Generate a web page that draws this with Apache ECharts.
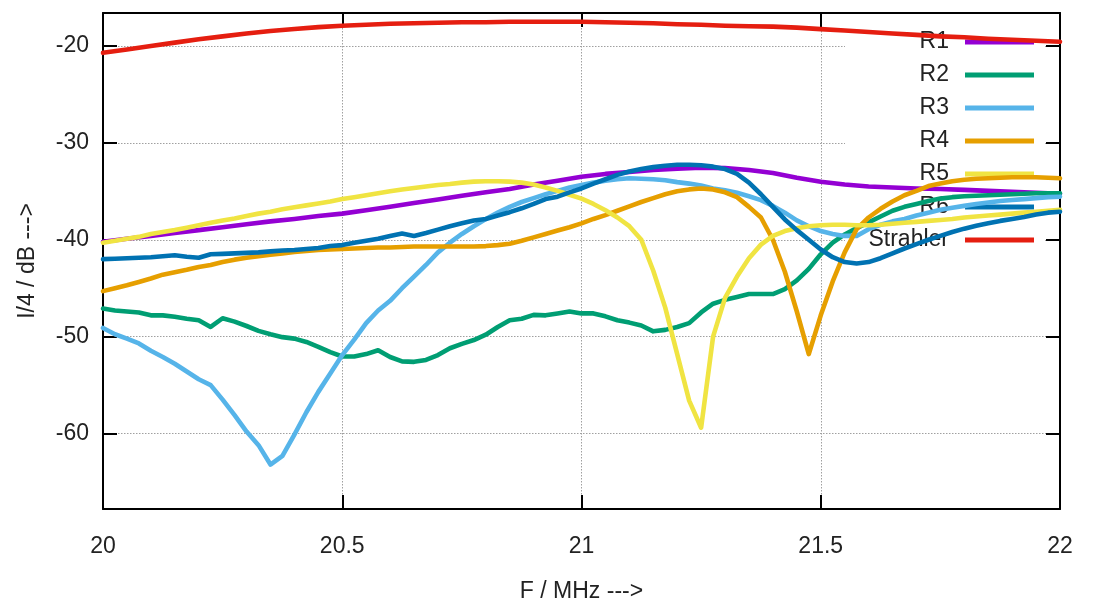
<!DOCTYPE html>
<html><head><meta charset="utf-8">
<script src="https://cdn.jsdelivr.net/npm/echarts@6/dist/echarts.min.js"></script>
<style>html,body{margin:0;padding:0;background:#fff}#c{width:1095px;height:603px}</style>
</head><body><div id="c"></div>
<script>
// Frequencies (MHz)
const freqFine = [20,20.025,20.05,20.075,20.1,20.125,20.15,20.175,20.2,20.225,20.25,20.275,20.3,20.325,20.35,20.375,20.4,20.425,20.45,20.475,20.5,20.525,20.55,20.575,20.6,20.625,20.65,20.675,20.7,20.725,20.75,20.775,20.8,20.825,20.85,20.875,20.9,20.925,20.95,20.975,21,21.025,21.05,21.075,21.1,21.125,21.15,21.175,21.2,21.225,21.25,21.275,21.3,21.325,21.35,21.375,21.4,21.425,21.45,21.475,21.5,21.525,21.55,21.575,21.6,21.625,21.65,21.675,21.7,21.725,21.75,21.775,21.8,21.825,21.85,21.875,21.9,21.925,21.95,21.975,22];
const freqCoarse = [20,20.05,20.1,20.15,20.2,20.25,20.3,20.35,20.4,20.45,20.5,20.55,20.6,20.65,20.7,20.75,20.8,20.85,20.9,20.95,21,21.05,21.1,21.15,21.2,21.25,21.3,21.35,21.4,21.45,21.5,21.55,21.6,21.65,21.7,21.75,21.8,21.85,21.9,21.95,22];

// Series values (dB)
const r1 = [-40.2,-39.9,-39.6,-39.3,-39.0,-38.7,-38.4,-38.1,-37.85,-37.55,-37.3,-36.95,-36.6,-36.2,-35.85,-35.45,-35.1,-34.75,-34.3,-33.9,-33.5,-33.2,-33.0,-32.8,-32.65,-32.55,-32.6,-32.8,-33.1,-33.6,-34.0,-34.3,-34.5,-34.6,-34.7,-34.75,-34.85,-34.95,-35.05,-35.15,-35.25];
const strahler = [-20.7,-20.35,-20.0,-19.65,-19.3,-19.0,-18.7,-18.45,-18.25,-18.05,-17.9,-17.8,-17.7,-17.65,-17.6,-17.55,-17.55,-17.5,-17.5,-17.5,-17.5,-17.55,-17.6,-17.65,-17.75,-17.8,-17.9,-17.95,-18.0,-18.1,-18.25,-18.4,-18.55,-18.7,-18.85,-19.0,-19.1,-19.25,-19.35,-19.45,-19.55];
const r2 = [-47.1,-47.3,-47.4,-47.5,-47.8,-47.8,-47.95,-48.15,-48.3,-49.0,
  -48.1,-48.45,-48.9,-49.4,-49.75,-50.05,-50.2,-50.55,-51.05,-51.6,
  -52.05,-52.05,-51.8,-51.4,-52.1,-52.55,-52.6,-52.4,-51.9,-51.2,
  -50.75,-50.35,-49.8,-49.0,-48.3,-48.15,-47.75,-47.8,-47.6,-47.4,
  -47.6,-47.6,-47.9,-48.3,-48.55,-48.85,-49.45,-49.3,-49.0,-48.6,
  -47.5,-46.6,-46.2,-45.9,-45.6,-45.6,-45.6,-45.1,-44.2,-43.0,
  -41.5,-40.3,-39.45,-38.8,-38.2,-37.6,-37.0,-36.6,-36.3,-36.0,
  -35.75,-35.6,-35.5,-35.45,-35.4,-35.35,-35.3,-35.25,-35.2,-35.2,-35.2];
const r3 = [-49.1,-49.75,-50.2,-50.7,-51.45,-52.1,-52.8,-53.6,-54.4,-55.0,
  -56.5,-58.1,-59.8,-61.2,-63.2,-62.3,-60.1,-57.8,-55.7,-53.8,
  -51.9,-50.3,-48.6,-47.3,-46.3,-45.0,-43.8,-42.6,-41.3,-40.3,
  -39.4,-38.6,-37.85,-37.2,-36.6,-36.1,-35.7,-35.3,-34.95,-34.6,
  -34.35,-34.1,-33.9,-33.75,-33.65,-33.7,-33.75,-33.85,-34.05,-34.2,
  -34.4,-34.7,-34.9,-35.15,-35.5,-35.9,-36.5,-37.2,-38.0,-38.6,
  -39.1,-39.4,-39.6,-39.6,-38.9,-38.45,-38.1,-37.85,-37.5,-37.2,
  -36.9,-36.7,-36.5,-36.3,-36.15,-36.0,-35.9,-35.8,-35.7,-35.6,-35.55];
const r4 = [-45.3,-45.0,-44.7,-44.35,-44.0,-43.6,-43.35,-43.1,-42.8,-42.6,
  -42.3,-42.05,-41.85,-41.7,-41.55,-41.4,-41.25,-41.15,-41.05,-41.0,
  -40.95,-40.9,-40.85,-40.8,-40.8,-40.75,-40.7,-40.7,-40.7,-40.7,
  -40.7,-40.7,-40.65,-40.55,-40.4,-40.1,-39.75,-39.4,-39.05,-38.7,
  -38.3,-37.85,-37.45,-37.0,-36.55,-36.1,-35.7,-35.3,-35.0,-34.8,
  -34.7,-34.8,-35.1,-35.6,-36.6,-37.7,-40.0,-43.3,-47.4,-51.8,
  -47.8,-44.3,-41.3,-38.9,-37.7,-36.8,-36.05,-35.4,-34.95,-34.45,
  -34.2,-33.95,-33.8,-33.7,-33.65,-33.6,-33.55,-33.55,-33.55,-33.6,-33.65];
const r5 = [-40.3,-40.1,-39.9,-39.7,-39.4,-39.2,-39.0,-38.75,-38.5,-38.25,
  -38.0,-37.8,-37.55,-37.3,-37.1,-36.85,-36.65,-36.45,-36.25,-36.05,
  -35.8,-35.6,-35.4,-35.2,-35.0,-34.8,-34.65,-34.5,-34.35,-34.25,
  -34.1,-34.0,-33.95,-33.95,-34.0,-34.1,-34.3,-34.6,-34.95,-35.35,
  -35.75,-36.3,-36.95,-37.7,-38.6,-40.0,-43.2,-47.0,-51.8,-56.6,
  -59.4,-50.0,-46.0,-43.8,-41.9,-40.5,-39.6,-39.1,-38.8,-38.6,
  -38.5,-38.45,-38.45,-38.5,-38.5,-38.45,-38.35,-38.25,-38.15,-38.05,
  -37.95,-37.85,-37.7,-37.6,-37.5,-37.4,-37.3,-37.2,-37.1,-37.0,-36.9];
const r6 = [-42.0,-41.95,-41.9,-41.85,-41.8,-41.7,-41.6,-41.75,-41.85,-41.5,
  -41.45,-41.4,-41.35,-41.3,-41.2,-41.1,-41.05,-40.95,-40.85,-40.65,
  -40.55,-40.3,-40.1,-39.9,-39.6,-39.35,-39.6,-39.3,-38.95,-38.6,
  -38.3,-38.0,-37.85,-37.5,-37.15,-36.75,-36.3,-35.8,-35.55,-35.1,
  -34.7,-34.2,-33.75,-33.3,-32.95,-32.7,-32.5,-32.35,-32.25,-32.25,
  -32.3,-32.45,-32.7,-33.2,-34.1,-35.3,-36.6,-37.9,-39.0,-40.0,
  -41.0,-41.8,-42.3,-42.45,-42.3,-41.9,-41.4,-40.9,-40.45,-40.0,
  -39.6,-39.2,-38.85,-38.55,-38.3,-38.05,-37.85,-37.65,-37.4,-37.2,-37.1];

const yTicks = [-60,-50,-40,-30,-20];
const seriesNames = ['R1','R2','R3','R4','R5','R6','Strahler'];
const seriesColors = ['#9400d3','#009e73','#56b4e9','#e69f00','#f0e442','#0072b2','#e51e10'];
const seriesX = [freqCoarse,freqFine,freqFine,freqFine,freqFine,freqFine,freqCoarse];
const seriesY = [r1,r2,r3,r4,r5,r6,strahler];

const FONT = '"Liberation Sans", Arial, Helvetica, sans-serif';
const TXT = '#222';
const gridLine = {show:true, lineStyle:{color:'#a0a0a0', width:1, type:[1.5,1.5]}};
const axLine = {show:true, onZero:false, lineStyle:{color:'#000', width:2}};
const tick = {show:true, inside:true, length:14, lineStyle:{color:'#000', width:2}};

const chart = echarts.init(document.getElementById('c'), null, {renderer:'canvas'});
chart.setOption({
  animation:false,
  backgroundColor:'#fff',
  grid:{left:103, right:35, top:13, bottom:94, containLabel:false, outerBoundsMode:'none'},
  xAxis:[
    {type:'value', min:20, max:22, interval:0.5, position:'bottom',
     name:'F / MHz --->', nameLocation:'middle', nameGap:71,
     nameTextStyle:{fontSize:23, color:TXT, fontFamily:FONT},
     axisLine:axLine, axisTick:tick,
     axisLabel:{margin:26, fontSize:23, color:TXT, fontFamily:FONT},
     splitLine:gridLine},
    {type:'value', min:20, max:22, interval:0.5, position:'top',
     axisLine:axLine, axisTick:tick, axisLabel:{show:false}, splitLine:{show:false}}
  ],
  yAxis:[
    {type:'value', min:-67.79, max:-16.59, position:'left',
     name:'I/4 / dB --->', nameLocation:'middle', nameGap:64, nameRotate:90,
     nameTextStyle:{fontSize:23, color:TXT, fontFamily:FONT},
     axisLine:axLine,
     axisTick:Object.assign({customValues:yTicks}, tick),
     axisLabel:{customValues:yTicks, margin:14, fontSize:23, color:TXT, fontFamily:FONT},
     splitLine:gridLine},
    {type:'value', min:-67.79, max:-16.59, position:'right',
     axisLine:axLine,
     axisTick:Object.assign({customValues:yTicks}, tick),
     axisLabel:{show:false, customValues:yTicks}, splitLine:{show:false}}
  ],
  legend:{
    data:seriesNames, orient:'vertical', right:61, top:30, align:'right',
    icon:'rect', itemWidth:69, itemHeight:5, itemGap:9, padding:0,
    selectedMode:false, z:1.5,
    textStyle:{fontSize:23, color:TXT, fontFamily:FONT, lineHeight:24, padding:[0,11,0,0]}
  },
  graphic:{elements:[
    {type:'rect', z:1, silent:true, shape:{x:845, y:15, width:200, height:242}, style:{fill:'#fff'}}
  ]},
  series: seriesNames.map((n,k)=>({
    name:n, type:'line', z:2, symbol:'none', showSymbol:false, smooth:false,
    xAxisIndex:0, yAxisIndex:0,
    data: seriesY[k].map((v,i)=>[seriesX[k][i], v]),
    lineStyle:{width:4.6, color:seriesColors[k], cap:'round', join:'round'},
    itemStyle:{color:seriesColors[k]}
  }))
});
</script>
</body></html>
